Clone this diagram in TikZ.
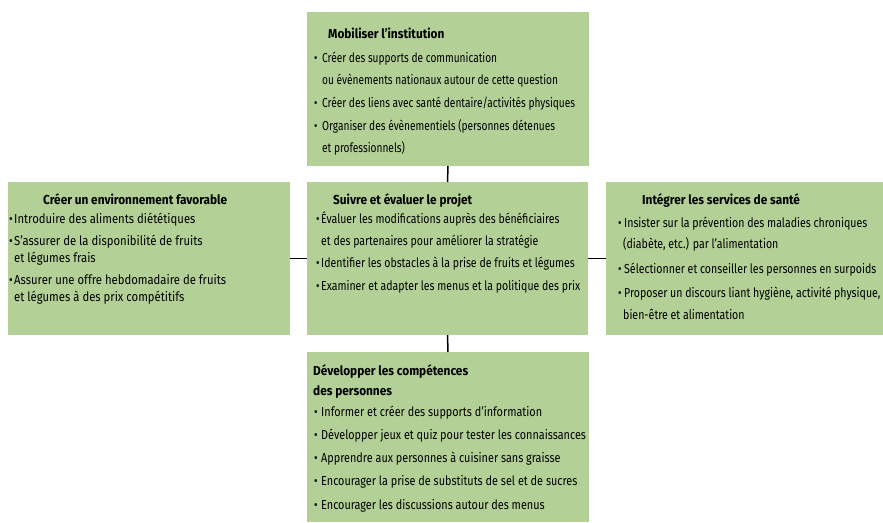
\documentclass[tikz,border=0pt]{standalone}
\usepackage{fontspec}
\setmainfont{Fira Sans}
\newfontfamily\fTop[FakeStretch=0.78]{Fira Sans}
\newfontfamily\fLeft[FakeStretch=0.87]{Fira Sans}
\newfontfamily\fCen[FakeStretch=0.81]{Fira Sans}
\newfontfamily\fRig[FakeStretch=0.815]{Fira Sans}
\newfontfamily\fBot[FakeStretch=0.835]{Fira Sans}
\newfontfamily\fTtl[FakeStretch=0.91]{Fira Sans}
\definecolor{boxgreen}{RGB}{179,208,151}
\tikzset{
  box/.style={fill=boxgreen, draw=none, inner sep=0pt, outer sep=0pt, anchor=north west},
  conn/.style={draw=black, line width=1.5pt},
  txt/.style={anchor=base west, inner sep=0pt},
  ttl/.style={anchor=base west, inner sep=0pt, font=\fTtl\fontsize{13}{15}\selectfont\bfseries},
}
\newcommand\Ln[4]{\node[txt] (#1) at (#2,#3) {#4};}
\newcommand\Tl[4]{\node[ttl] (#1) at (#2,#3) {#4};}
\newcommand\Bu[3]{\node[txt] (#1) at (#2,#3) {•};}
\begin{document}
\begin{tikzpicture}[x=1pt,y=-1pt]
\useasboundingbox (0,0) rectangle (883,522);
% boxes
\node[box, minimum width=282pt, minimum height=154pt] (top) at (307,12) {};
\node[box, minimum width=282pt, minimum height=153pt] (left) at (8,182) {};
\node[box, minimum width=281pt, minimum height=153pt] (center) at (307,182) {};
\node[box, minimum width=277pt, minimum height=153pt] (right) at (606,182) {};
\node[box, minimum width=282pt, minimum height=170pt] (bottom) at (307,352) {};
% connectors
\draw[conn] (top.south) -- (center.north);
\draw[conn] (center.south) -- (bottom.north);
\draw[conn] (left.east) -- (center.west);
\draw[conn] (center.east) -- (right.west);
% top box
\begin{scope}[every node/.style={font=\fTop\fontsize{13}{15}\selectfont}]
\Tl{ta}{328}{38}{Mobiliser l’institution}
\Bu{tb1}{314}{62}\Ln{t1}{322}{62}{Créer des supports de communication}
\Ln{t1b}{322}{84}{ou évènements nationaux autour de cette question}
\Bu{tb2}{314}{107}\Ln{t2}{322}{107}{Créer des liens avec santé dentaire/activités physiques}
\Bu{tb3}{314}{130}\Ln{t3}{322}{130}{Organiser des évènementiels (personnes détenues}
\Ln{t3b}{322}{152}{et professionnels)}
\end{scope}
% left box
\begin{scope}[every node/.style={font=\fLeft\fontsize{13}{15}\selectfont}]
\Tl{la}{43}{204}{Créer un environnement favorable}
\Bu{lb1}{9}{223}\Ln{l1}{14}{223}{Introduire des aliments diététiques}
\Bu{lb2}{9}{245}\Ln{l2}{14}{245}{S’assurer de la disponibilité de fruits}
\Ln{l2b}{14}{262}{et légumes frais}
\Bu{lb3}{9}{284}\Ln{l3}{14}{284}{Assurer une offre hebdomadaire de fruits}
\Ln{l3b}{14}{301}{et légumes à des prix compétitifs}
\end{scope}
% center box
\begin{scope}[every node/.style={font=\fCen\fontsize{13}{15}\selectfont}]
\Tl{ca}{333}{204}{Suivre et évaluer le projet}
\Bu{cb1}{316}{223}\Ln{c1}{321}{223}{Évaluer les modifications auprès des bénéficiaires}
\Ln{c1b}{321}{245}{et des partenaires pour améliorer la stratégie}
\Bu{cb2}{316}{267}\Ln{c2}{321}{267}{Identifier les obstacles à la prise de fruits et légumes}
\Bu{cb3}{316}{290}\Ln{c3}{321}{290}{Examiner et adapter les menus et la politique des prix}
\end{scope}
% right box
\begin{scope}[every node/.style={font=\fRig\fontsize{13}{15}\selectfont}]
\Tl{ra}{642}{204}{Intégrer les services de santé}
\Bu{rb1}{618}{227}\Ln{r1}{624}{227}{Insister sur la prévention des maladies chroniques}
\Ln{r1b}{623}{248}{(diabète, etc.) par l’alimentation}
\Bu{rb2}{618}{273}\Ln{r2}{624}{273}{Sélectionner et conseiller les personnes en surpoids}
\Bu{rb3}{618}{297}\Ln{r3}{624}{297}{Proposer un discours liant hygiène, activité physique,}
\Ln{r3b}{623}{319}{bien-être et alimentation}
\end{scope}
% bottom box
\begin{scope}[every node/.style={font=\fBot\fontsize{13}{15}\selectfont}]
\Tl{ba}{313}{375}{Développer les compétences}
\Tl{ba2}{313}{395}{des personnes}
\Bu{bb1}{314}{416}\Ln{b1}{321}{416}{Informer et créer des supports d’information}
\Bu{bb2}{314}{439}\Ln{b2}{321}{439}{Développer jeux et quiz pour tester les connaissances}
\Bu{bb3}{314}{462}\Ln{b3}{321}{462}{Apprendre aux personnes à cuisiner sans graisse}
\Bu{bb4}{314}{485}\Ln{b4}{321}{485}{Encourager la prise de substituts de sel et de sucres}
\Bu{bb5}{314}{509}\Ln{b5}{321}{509}{Encourager les discussions autour des menus}
\end{scope}
\end{tikzpicture}
\end{document}
